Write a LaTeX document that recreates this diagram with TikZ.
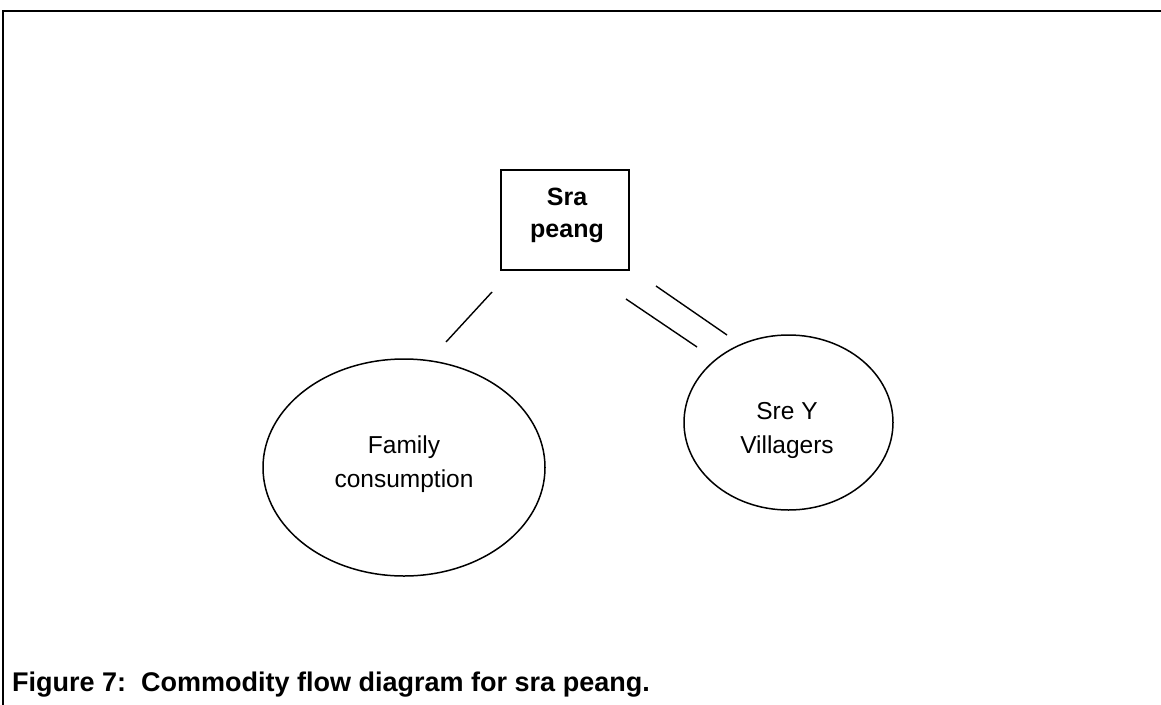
\documentclass[tikz,border=0pt]{standalone}
\usepackage{fontspec}
\setmainfont{Liberation Sans}
\usetikzlibrary{shapes.geometric}
\begin{document}
\begin{tikzpicture}[x=1pt,y=-1pt,
  framerule/.style={line width=2.6pt,line cap=rect},
  stockbox/.style={draw,line width=2.6pt,minimum width=128pt,minimum height=100pt,inner sep=0pt},
  outlet/.style={draw,ellipse,line width=1.5pt,inner sep=0pt},
  flowline/.style={line width=1.4pt},
  boldlabel/.style={font=\fontsize{25}{32}\selectfont\bfseries,align=center,inner sep=0pt},
  plainlabel/.style={font=\fontsize{24.5}{34}\selectfont,align=center,inner sep=0pt},
  captiontext/.style={font=\fontsize{27}{32}\selectfont\bfseries,inner sep=0pt}]
\useasboundingbox (0,0) rectangle (1161,704);
% open frame: top and left rules only
\coordinate (frameTL) at (3,11);
\coordinate (frameTR) at (1161,11);
\coordinate (frameBL) at (3,704);
\draw[framerule] (frameTR) -- (frameTL) -- (frameBL);
% producer box
\node[stockbox] (box) at (565,220) {};
\node[boldlabel,anchor=north] (boxtext) at (567,188) {Sra\\peang};
% outlets
\node[outlet,minimum width=282pt,minimum height=217pt] (family) at (404,467.5) {};
\node[plainlabel,anchor=north] (familytext) at (404,436) {Family\\consumption};
\node[outlet,minimum width=209pt,minimum height=175pt] (village) at (788.5,422.5) {};
\node[plainlabel,anchor=north] (villagetext) at (787,402) {Sre Y\\Villagers};
% flow strokes
\coordinate (fa) at (492,292);
\coordinate (fb) at (446,342);
\coordinate (va) at (626,299);
\coordinate (vb) at (697,347);
\coordinate (wa) at (656,286);
\coordinate (wb) at (727,335);
\draw[flowline] (fa) -- (fb);
\draw[flowline] (va) -- (vb);
\draw[flowline] (wa) -- (wb);
% caption
\node[captiontext,anchor=base west] (caption) at (12,691) {Figure 7:\ \ Commodity flow diagram for sra peang.};
\end{tikzpicture}
\end{document}
